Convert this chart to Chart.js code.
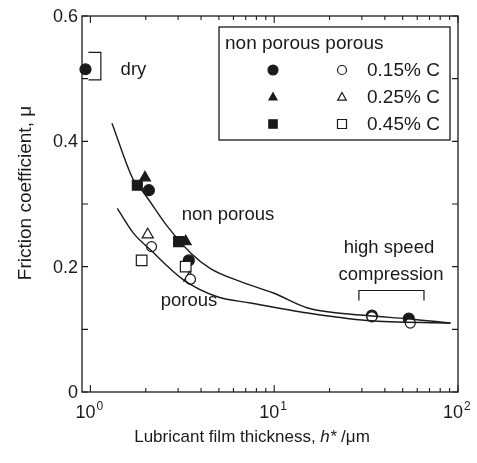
<!DOCTYPE html>
<html>
<head>
<meta charset="utf-8">
<script src="https://cdn.jsdelivr.net/npm/chart.js@4.4.0/dist/chart.umd.min.js"></script>
<style>
html, body { margin: 0; padding: 0; background: #fff; }
</style>
</head>
<body>
<canvas id="frictionChart" width="477" height="463"></canvas>
<script>
// values
let dryX = [0.94];
let dryY = [0.515];

let npCircleX = [2.08, 3.43, 34, 54];
let npCircleY = [0.322, 0.21, 0.122, 0.117];
let npTriangleX = [1.98, 3.30];
let npTriangleY = [0.342, 0.24];
let npSquareX = [1.80, 3.02];
let npSquareY = [0.33, 0.24];

let pCircleX = [2.15, 3.50, 34, 55];
let pCircleY = [0.232, 0.18, 0.12, 0.11];
let pTriangleX = [2.05, 3.46];
let pTriangleY = [0.251, 0.182];
let pSquareX = [1.90, 3.30];
let pSquareY = [0.21, 0.20];

let curveNonPorousX = [1.31, 1.71, 1.95, 2.63, 3.51, 4.5, 6.57, 9.9, 15.2, 32, 53, 91];
let curveNonPorousY = [0.429, 0.339, 0.318, 0.264, 0.222, 0.197, 0.176, 0.158, 0.134, 0.122, 0.117, 0.110];
let curvePorousX = [1.40, 1.71, 2.12, 3.21, 4.9, 7.45, 15.2, 32, 91];
let curvePorousY = [0.293, 0.254, 0.227, 0.179, 0.152, 0.142, 0.126, 0.114, 0.110];

let xMajorTicks = [1, 10, 100];
let xTickLabels = ["0", "1", "2"];
let yTicks = [0, 0.1, 0.2, 0.3, 0.4, 0.5, 0.6];
let yTickLabels = {0: "0", 0.2: "0.2", 0.4: "0.4", 0.6: "0.6"};

let legendRows = ["0.15% C", "0.25% C", "0.45% C"];

function pts(xs, ys) {
    return xs.map((x, i) => ({ x: x, y: ys[i] }));
}

const INK = "#1a1a1a";
const FONT = "\"Liberation Sans\", Arial, sans-serif";

function marker(label, xs, ys, style, filled, radius) {
    return {
        type: "scatter",
        label: label,
        data: pts(xs, ys),
        pointStyle: style,
        pointRadius: radius,
        pointBackgroundColor: filled ? INK : "#fff",
        pointBorderColor: INK,
        pointBorderWidth: 1.2,
        clip: false
    };
}

function curve(label, xs, ys) {
    return {
        type: "line",
        label: label,
        data: pts(xs, ys),
        borderColor: INK,
        borderWidth: 1.4,
        pointRadius: 0,
        cubicInterpolationMode: "monotone",
        fill: false
    };
}

// legend shapes
function shape(ctx, style, filled, x, y, r) {
    ctx.beginPath();
    if (style === "circle") {
        ctx.arc(x, y, r, 0, Math.PI * 2);
    } else if (style === "triangle") {
        ctx.moveTo(x, y - r);
        ctx.lineTo(x + r * 0.95, y + r * 0.7);
        ctx.lineTo(x - r * 0.95, y + r * 0.7);
        ctx.closePath();
    } else {
        ctx.rect(x - r, y - r, 2 * r, 2 * r);
    }
    ctx.fillStyle = filled ? INK : "#fff";
    ctx.fill();
    ctx.lineWidth = 1.2;
    ctx.strokeStyle = INK;
    ctx.stroke();
}

const frame = {
    id: "frame",
    beforeDatasetsDraw(chart) {
        const ctx = chart.ctx;
        const a = chart.chartArea;
        const xs = chart.scales.x, ys = chart.scales.y;
        ctx.save();
        ctx.strokeStyle = INK;
        ctx.lineWidth = 1.3;
        ctx.strokeRect(a.left, a.top, a.right - a.left, a.bottom - a.top);
        ctx.lineWidth = 1.1;
        ctx.beginPath();
        // x ticks, inward, bottom and top
        for (let d = 1; d <= 100; d *= 10) {
            for (let m = 1; m <= 9; m++) {
                const v = d * m;
                if (v > 100) break;
                const px = xs.getPixelForValue(v);
                const len = m === 1 ? 7 : 4;
                ctx.moveTo(px, a.bottom); ctx.lineTo(px, a.bottom - len);
                ctx.moveTo(px, a.top); ctx.lineTo(px, a.top + len);
            }
        }
        // y ticks, inward, left and right
        yTicks.forEach(v => {
            const py = ys.getPixelForValue(v);
            ctx.moveTo(a.left, py); ctx.lineTo(a.left + 6, py);
            ctx.moveTo(a.right, py); ctx.lineTo(a.right - 6, py);
        });
        ctx.stroke();
        ctx.restore();
    },
    afterDatasetsDraw(chart) {
        const ctx = chart.ctx;
        const a = chart.chartArea;
        const xs = chart.scales.x, ys = chart.scales.y;
        ctx.save();
        ctx.fillStyle = INK;
        ctx.strokeStyle = INK;

        // y tick labels
        ctx.font = "18px " + FONT;
        ctx.textAlign = "right";
        ctx.textBaseline = "middle";
        yTicks.forEach(v => {
            if (yTickLabels[v] !== undefined) {
                ctx.fillText(yTickLabels[v], a.left - 4, ys.getPixelForValue(v) + 1);
            }
        });

        // x tick labels 10^n
        xMajorTicks.forEach((v, i) => {
            const px = xs.getPixelForValue(v);
            ctx.font = "18px " + FONT;
            ctx.textAlign = "right";
            ctx.textBaseline = "alphabetic";
            ctx.fillText("10", px + 5, a.bottom + 26);
            ctx.font = "12px " + FONT;
            ctx.textAlign = "left";
            ctx.fillText(xTickLabels[i], px + 6, a.bottom + 18);
        });

        // axis titles
        ctx.textAlign = "left";
        ctx.textBaseline = "middle";
        const t1 = "Lubricant film thickness, ";
        const t2 = "h*";
        const t3 = " /\u03bcm";
        ctx.font = "17px " + FONT;
        const w1 = ctx.measureText(t1).width;
        const w3 = ctx.measureText(t3).width;
        ctx.font = "italic 17px " + FONT;
        const w2 = ctx.measureText(t2).width;
        let sx = 252 - (w1 + w2 + w3) / 2;
        const ty = 437;
        ctx.font = "17px " + FONT;
        ctx.fillText(t1, sx, ty);
        ctx.font = "italic 17px " + FONT;
        ctx.fillText(t2, sx + w1, ty);
        ctx.font = "17px " + FONT;
        ctx.fillText(t3, sx + w1 + w2, ty);

        ctx.save();
        ctx.font = "19px " + FONT;
        ctx.translate(26, 193);
        ctx.rotate(-Math.PI / 2);
        ctx.textAlign = "center";
        ctx.fillText("Friction coefficient, \u03bc", 0, 0);
        ctx.restore();

        // annotations in data space
        ctx.lineWidth = 1.2;
        ctx.beginPath();
        let bx0 = xs.getPixelForValue(0.975), bx1 = xs.getPixelForValue(1.14);
        let by0 = ys.getPixelForValue(0.542), by1 = ys.getPixelForValue(0.498);
        ctx.moveTo(bx0, by0); ctx.lineTo(bx1, by0); ctx.lineTo(bx1, by1); ctx.lineTo(bx0, by1);
        let hx0 = xs.getPixelForValue(28.9), hx1 = xs.getPixelForValue(65.3);
        let hy0 = ys.getPixelForValue(0.146), hy1 = ys.getPixelForValue(0.162);
        ctx.moveTo(hx0, hy0); ctx.lineTo(hx0, hy1); ctx.lineTo(hx1, hy1); ctx.lineTo(hx1, hy0);
        ctx.stroke();

        ctx.font = "18.5px " + FONT;
        ctx.textAlign = "center";
        ctx.textBaseline = "middle";
        ctx.fillText("dry", xs.getPixelForValue(1.715), ys.getPixelForValue(0.514));
        ctx.fillText("non porous", xs.getPixelForValue(5.61), ys.getPixelForValue(0.282));
        ctx.fillText("porous", xs.getPixelForValue(3.44), ys.getPixelForValue(0.145));
        ctx.fillText("high speed", xs.getPixelForValue(42.1), ys.getPixelForValue(0.23));
        ctx.fillText("compression", xs.getPixelForValue(43.2), ys.getPixelForValue(0.187));

        // legend box
        const lx = 219, ly = 27, lw = 231, lh = 113;
        ctx.fillStyle = "#fff";
        ctx.fillRect(lx, ly, lw, lh);
        ctx.lineWidth = 1.3;
        ctx.strokeRect(lx, ly, lw, lh);
        ctx.fillStyle = INK;
        ctx.textAlign = "left";
        ctx.font = "19px " + FONT;
        ctx.fillText("non porous porous", lx + 6, ly + 17);
        const styles = ["circle", "triangle", "rect"];
        const rowY = [70, 97, 124];
        legendRows.forEach((txt, i) => {
            const y = rowY[i];
            const filledR = styles[i] === "circle" ? 5 : 4.2;
            const openR = 4.5;
            shape(ctx, styles[i], true, lx + 54, y, filledR);
            shape(ctx, styles[i], false, lx + 123, y, openR);
            ctx.fillStyle = INK;
            ctx.fillText(txt, lx + 148, y + 1);
        });
        ctx.restore();
    }
};

new Chart(document.getElementById("frictionChart"), {
    data: {
        datasets: [
            curve("non porous fit", curveNonPorousX, curveNonPorousY),
            curve("porous fit", curvePorousX, curvePorousY),
            marker("porous 0.15% C", pCircleX, pCircleY, "circle", false, 5),
            marker("porous 0.25% C", pTriangleX, pTriangleY, "triangle", false, 6.5),
            marker("porous 0.45% C", pSquareX, pSquareY, "rect", false, 7.5),
            marker("non porous 0.45% C", npSquareX, npSquareY, "rect", true, 7),
            marker("non porous 0.25% C", npTriangleX, npTriangleY, "triangle", true, 6.3),
            marker("non porous 0.15% C", npCircleX, npCircleY, "circle", true, 5.5),
            marker("dry", dryX, dryY, "circle", true, 5.5)
        ]
    },
    options: {
        responsive: false,
        animation: false,
        devicePixelRatio: 1,
        layout: { padding: { left: 82, top: 16, right: 19, bottom: 71 } },
        scales: {
            x: { type: "logarithmic", min: 0.9, max: 100, display: false },
            y: { type: "linear", min: 0, max: 0.6, display: false }
        },
        plugins: {
            legend: { display: false },
            tooltip: { enabled: false }
        }
    },
    plugins: [frame]
});
</script>
</body>
</html>
